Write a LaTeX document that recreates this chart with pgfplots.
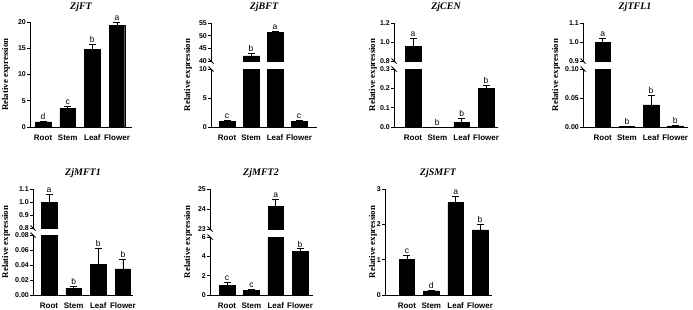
\documentclass[border=0pt]{standalone}
\usepackage{fontspec}
\setmainfont{Liberation Serif}
\newfontfamily\arial{Liberation Sans}
\usepackage{pgfplots}
\usepackage{pgfplotstable}
\pgfplotsset{compat=1.18}
\newcommand\tickfont{\arial\bfseries\fontsize{7}{8}\selectfont}
\pgfplotsset{
  base/.style={
    scale only axis, anchor=south west,
    axis x line=bottom, axis y line=left,
    axis line style={-, line width=0.9pt, black},
    tick align=outside, major tick length=3pt,
    ytick style={line width=0.9pt, black},
    xtick={0,1,2,3}, xticklabels={Root,Stem,Leaf,Flower},
    x tick style={draw=none},
    tick label style={font=\tickfont},
    yticklabel style={inner sep=1pt},
    xticklabel style={font=\arial\bfseries\fontsize{8}{9}\selectfont, yshift=-1pt},
    /pgf/number format/assume math mode=true,
    scaled y ticks=false,
    clip mode=individual,
  },
  upper/.style={base, axis x line=none, xtick=\empty},
  fmt/.style={yticklabel style={/pgf/number format/fixed, /pgf/number format/fixed zerofill, /pgf/number format/precision=#1}},
}
\newcommand\bars[2][-1:1000]{\addplot[ybar, bar width=15.5pt, fill=black, draw=black,
   restrict y to domain=#1,
   error bars/.cd, y dir=plus, y explicit,
   error bar style={line width=0.8pt, black},
   error mark options={rotate=90, mark size=3.5pt, line width=0.8pt, black}]
   table[x=x, y=y, y error=e] {#2};}
\newcommand\letters[2]{\addplot[draw=none, mark=none, restrict y to domain=#2,
   nodes near coords, point meta=explicit symbolic,
   nodes near coords style={font=\arial\fontsize{8.5}{9}\selectfont, anchor=south, inner sep=1.5pt, text=black}]
   table[x=x, y expr=\thisrow{y}+\thisrow{e}, meta=l] {#1};}

\pgfplotstableread{
x y e l
0 1.0 0.12 d
1 3.56 0.45 c
2 14.8 0.9 b
3 19.4 0.5 a
}\ZjFT
\pgfplotstableread{
x y e l
0 1.0 0.15 c
1 42.0 1.0 b
2 51.3 0.4 a
3 1.0 0.08 c
}\ZjBFT
\pgfplotstableread{
x y e l
0 0.958 0.08 a
1 0.0 0.0 b
2 0.024 0.021 b
3 0.200 0.016 b
}\ZjCEN
\pgfplotstableread{
x y e l
0 1.0 0.017 a
1 0.001 0.0005 b
2 0.038 0.017 b
3 0.002 0.001 b
}\ZjTFL
\pgfplotstableread{
x y e l
0 1.0 0.058 a
1 0.009 0.0025 b
2 0.041 0.021 b
3 0.035 0.013 b
}\ZjMFTa
\pgfplotstableread{
x y e l
0 1.0 0.28 c
1 0.5 0.1 c
2 24.12 0.38 a
3 4.5 0.27 b
}\ZjMFTb
\pgfplotstableread{
x y e l
0 1.0 0.13 c
1 0.12 0.02 d
2 2.63 0.15 a
3 1.84 0.16 b
}\ZjSMFT

\begin{document}
\begin{tikzpicture}
\path[use as bounding box] (0,0) rectangle (693pt,309pt);
% ---------- P1 ZjFT
\begin{axis}[base, at={(30pt,182pt)}, width=102pt, height=105pt,
  xmin=-0.53, xmax=3.61, ymin=0, ymax=20, ytick={0,5,10,15,20}]
  \bars{\ZjFT}
  \letters{\ZjFT}{0:25}
\end{axis}
% ---------- P2 ZjBFT
\begin{axis}[base, at={(211pt,182pt)}, width=106pt, height=58pt,
  xmin=-0.67, xmax=3.75, ymin=0, ymax=10, ytick={0,5,10}]
  \bars{\ZjBFT}
  \letters{\ZjBFT}{0:10}
\end{axis}
\begin{axis}[upper, at={(211pt,248pt)}, width=106pt, height=38pt,
  xmin=-0.67, xmax=3.75, ymin=40, ymax=55, ytick={40,45,50,55}]
  \bars[40:100]{\ZjBFT}
  \letters{\ZjBFT}{40:60}
\end{axis}
% ---------- P3 ZjCEN
\begin{axis}[base, fmt=1, at={(394pt,182pt)}, width=104pt, height=58pt,
  xmin=-0.78, xmax=3.49, ymin=0, ymax=0.3, ytick={0,0.1,0.2,0.3}]
  \bars{\ZjCEN}
  \letters{\ZjCEN}{-0.01:0.3}
\end{axis}
\begin{axis}[upper, fmt=1, at={(394pt,248pt)}, width=104pt, height=38pt,
  xmin=-0.78, xmax=3.49, ymin=0.8, ymax=1.2, ytick={0.8,1.0,1.2}]
  \bars[0.8:2]{\ZjCEN}
  \letters{\ZjCEN}{0.8:1.3}
\end{axis}
% ---------- P4 ZjTFL1
\begin{axis}[base, fmt=2, at={(583pt,182pt)}, width=105pt, height=58pt,
  xmin=-0.82, xmax=3.53, ymin=0, ymax=0.1, ytick={0,0.05,0.1}]
  \bars{\ZjTFL}
  \letters{\ZjTFL}{-0.01:0.1}
\end{axis}
\begin{axis}[upper, fmt=1, at={(583pt,248pt)}, width=105pt, height=38pt,
  xmin=-0.82, xmax=3.53, ymin=0.9, ymax=1.1, ytick={0.9,1.0,1.1}]
  \bars[0.9:2]{\ZjTFL}
  \letters{\ZjTFL}{0.9:1.2}
\end{axis}
% ---------- P5 ZjMFT1
\begin{axis}[base, fmt=2, at={(33pt,14pt)}, width=100pt, height=60pt,
  xmin=-0.65, xmax=3.41, ymin=0, ymax=0.08, ytick={0,0.02,0.04,0.06,0.08}]
  \bars{\ZjMFTa}
  \letters{\ZjMFTa}{-0.01:0.08}
\end{axis}
\begin{axis}[upper, fmt=1, at={(33pt,81pt)}, width=100pt, height=39pt,
  xmin=-0.65, xmax=3.41, ymin=0.8, ymax=1.1, ytick={0.8,0.9,1.0,1.1}]
  \bars[0.8:2]{\ZjMFTa}
  \letters{\ZjMFTa}{0.8:1.2}
\end{axis}
% ---------- P6 ZjMFT2
\begin{axis}[base, at={(210pt,14pt)}, width=103pt, height=58pt,
  xmin=-0.70, xmax=3.53, ymin=0, ymax=6, ytick={0,2,4,6}]
  \bars{\ZjMFTb}
  \letters{\ZjMFTb}{0:6}
\end{axis}
\begin{axis}[upper, at={(210pt,80pt)}, width=103pt, height=40pt,
  xmin=-0.70, xmax=3.53, ymin=23, ymax=25, ytick={23,24,25}]
  \bars[23:50]{\ZjMFTb}
  \letters{\ZjMFTb}{23:26}
\end{axis}
% ---------- P7 ZjSMFT
\begin{axis}[base, at={(385pt,14pt)}, width=107pt, height=106pt,
  xmin=-0.90, xmax=3.49, ymin=0, ymax=3, ytick={0,1,2,3}]
  \bars{\ZjSMFT}
  \letters{\ZjSMFT}{0:3.5}
\end{axis}
% ---------- break marks
\begin{scope}[line width=0.9pt]
\foreach \L/\a/\b in {211/240/248, 394/240/248, 583/240/248, 33/74/81, 210/72/80}{
  \draw (\L pt-2.5pt,\a pt+2.5pt) -- (\L pt+2.5pt,\a pt-2.5pt);
  \draw (\L pt-2.5pt,\b pt+2.5pt) -- (\L pt+2.5pt,\b pt-2.5pt);
}
\end{scope}
% ---------- titles
\begin{scope}[every node/.style={font=\bfseries\itshape\fontsize{10}{11}\selectfont}]
\node at (81pt,302pt) {ZjFT};
\node at (264pt,302pt) {ZjBFT};
\node at (446pt,302pt) {ZjCEN};
\node at (635pt,302pt) {ZjTFL1};
\node at (83pt,136pt) {ZjMFT1};
\node at (261pt,136pt) {ZjMFT2};
\node at (438pt,136pt) {ZjSMFT};
\end{scope}
% ---------- y labels
\begin{scope}[every node/.style={rotate=90, font=\bfseries\fontsize{8.8}{9}\selectfont}]
\node at (6pt,234.5pt) {Relative expression};
\node at (188pt,234pt) {Relative expression};
\node at (373pt,234pt) {Relative expression};
\node at (556pt,234pt) {Relative expression};
\node at (6pt,67pt) {Relative expression};
\node at (188pt,67pt) {Relative expression};
\node at (373pt,67pt) {Relative expression};
\end{scope}
\end{tikzpicture}
\end{document}
